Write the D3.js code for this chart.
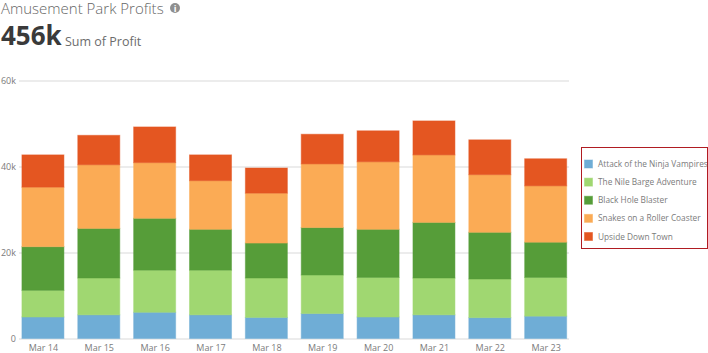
<!DOCTYPE html>
<html>
<head>
<meta charset="utf-8">
<script src="https://cdn.jsdelivr.net/npm/d3@7"></script>
<style>
    html, body { margin: 0; padding: 0; background: #fff; overflow: hidden; }
    text { font-family: "Open Sans", sans-serif; }
    .axis .domain { display: none; }
    .axis text { font-size: 9px; fill: #7b7b7b; }
</style>
</head>
<body>
<div id="chart"></div>
<script>
const days = ["Mar 14", "Mar 15", "Mar 16", "Mar 17", "Mar 18", "Mar 19", "Mar 20", "Mar 21", "Mar 22", "Mar 23"];
const rides = ["Attack of the Ninja Vampires", "The Nile Barge Adventure", "Black Hole Blaster", "Snakes on a Roller Coaster", "Upside Down Town"];
const colors = ["#6fadd6", "#a0d771", "#569d39", "#fbab55", "#e45621"];

// profit per day
const ninja = [5000, 5500, 6100, 5500, 4900, 5800, 5000, 5500, 4850, 5200];
const nile = [6200, 8570, 9800, 10400, 9170, 8970, 9200, 8570, 8990, 9000];
const blackHole = [10150, 11530, 12050, 9500, 8130, 11030, 11200, 12930, 10860, 8200];
const snakes = [13850, 14800, 12950, 11300, 11600, 14800, 15700, 15700, 13400, 13100];
const upside = [7500, 6850, 8300, 6000, 5850, 6900, 7200, 7900, 8100, 6300];
const seriesValues = [ninja, nile, blackHole, snakes, upside];

const yTicks = [0, 20000, 40000, 60000];

const width = 708, height = 353;

const svg = d3.select("#chart").append("svg")
    .attr("width", width)
    .attr("height", height)
    .style("display", "block");

const xScale = d3.scaleBand()
    .domain(days)
    .range([15, 573.6])
    .paddingInner(0.248)
    .paddingOuter(0.124);

const yScale = d3.scaleLinear()
    .domain([0, 60000])
    .range([338.5, 80.5]);

// gridlines and y labels
const yAxis = d3.axisLeft(yScale)
    .tickValues(yTicks)
    .tickFormat(d => d === 0 ? "0" : d / 1000 + "k")
    .tickSize(-550)
    .tickPadding(3);

const yAxisG = svg.append("g")
    .attr("class", "axis")
    .attr("transform", "translate(19, 0)")
    .call(yAxis);
yAxisG.selectAll("line").attr("stroke", "#d9d9d9");

const xAxis = d3.axisBottom(xScale).tickSize(0).tickPadding(6);
svg.append("g")
    .attr("class", "axis")
    .attr("transform", "translate(0.5, 338.5)")
    .call(xAxis);

// stacked bars
const table = days.map((day, i) => {
    const row = { day: day };
    rides.forEach((r, k) => { row[r] = seriesValues[k][i]; });
    return row;
});
const stacked = d3.stack().keys(rides)(table);

svg.append("g").selectAll("g")
    .data(stacked)
    .join("g")
    .attr("fill", (d, i) => colors[i])
    .attr("stroke", (d, i) => colors[i])
    .attr("stroke-opacity", 0.5)
    .selectAll("rect")
    .data(d => d)
    .join("rect")
    .attr("x", d => xScale(d.data.day))
    .attr("y", d => yScale(d[1]))
    .attr("width", xScale.bandwidth())
    .attr("height", d => yScale(d[0]) - yScale(d[1]));

// title block
svg.append("text")
    .attr("x", 1).attr("y", 13.5)
    .attr("font-size", 15)
    .attr("font-weight", 300)
    .attr("fill", "#666")
    .text("Amusement Park Profits");

const info = svg.append("g").attr("transform", "translate(175, 8)");
info.append("circle").attr("r", 5).attr("fill", "#8f8f8f");
info.append("text")
    .attr("text-anchor", "middle").attr("y", 3.5)
    .attr("font-size", 9).attr("font-weight", 700)
    .attr("fill", "#fff")
    .text("i");

svg.append("text")
    .attr("x", 1).attr("y", 45)
    .attr("font-size", 26)
    .attr("font-weight", 700)
    .attr("fill", "#3a3a3a")
    .text("456k");

svg.append("text")
    .attr("x", 65).attr("y", 46)
    .attr("font-size", 12.5)
    .attr("fill", "#6c6c6c")
    .text("Sum of Profit");

// legend
svg.append("rect")
    .attr("x", 581.5).attr("y", 147.5)
    .attr("width", 126).attr("height", 101)
    .attr("fill", "#fff")
    .attr("stroke", "#b01c22")
    .attr("stroke-width", 1);

const legendY = d3.scalePoint().domain(rides).range([164, 236.5]);

const legend = svg.append("g").selectAll("g")
    .data(rides)
    .join("g")
    .attr("transform", d => `translate(584, ${legendY(d)})`);

legend.append("rect")
    .attr("x", 0.5).attr("y", -4)
    .attr("width", 8).attr("height", 8)
    .attr("fill", (d, i) => colors[i])
    .attr("stroke", (d, i) => colors[i])
    .attr("stroke-opacity", 0.5);

legend.append("text")
    .attr("x", 14).attr("y", 3)
    .attr("font-size", 8.3)
    .attr("fill", "#7b7b7b")
    .text(d => d);
</script>
</body>
</html>
